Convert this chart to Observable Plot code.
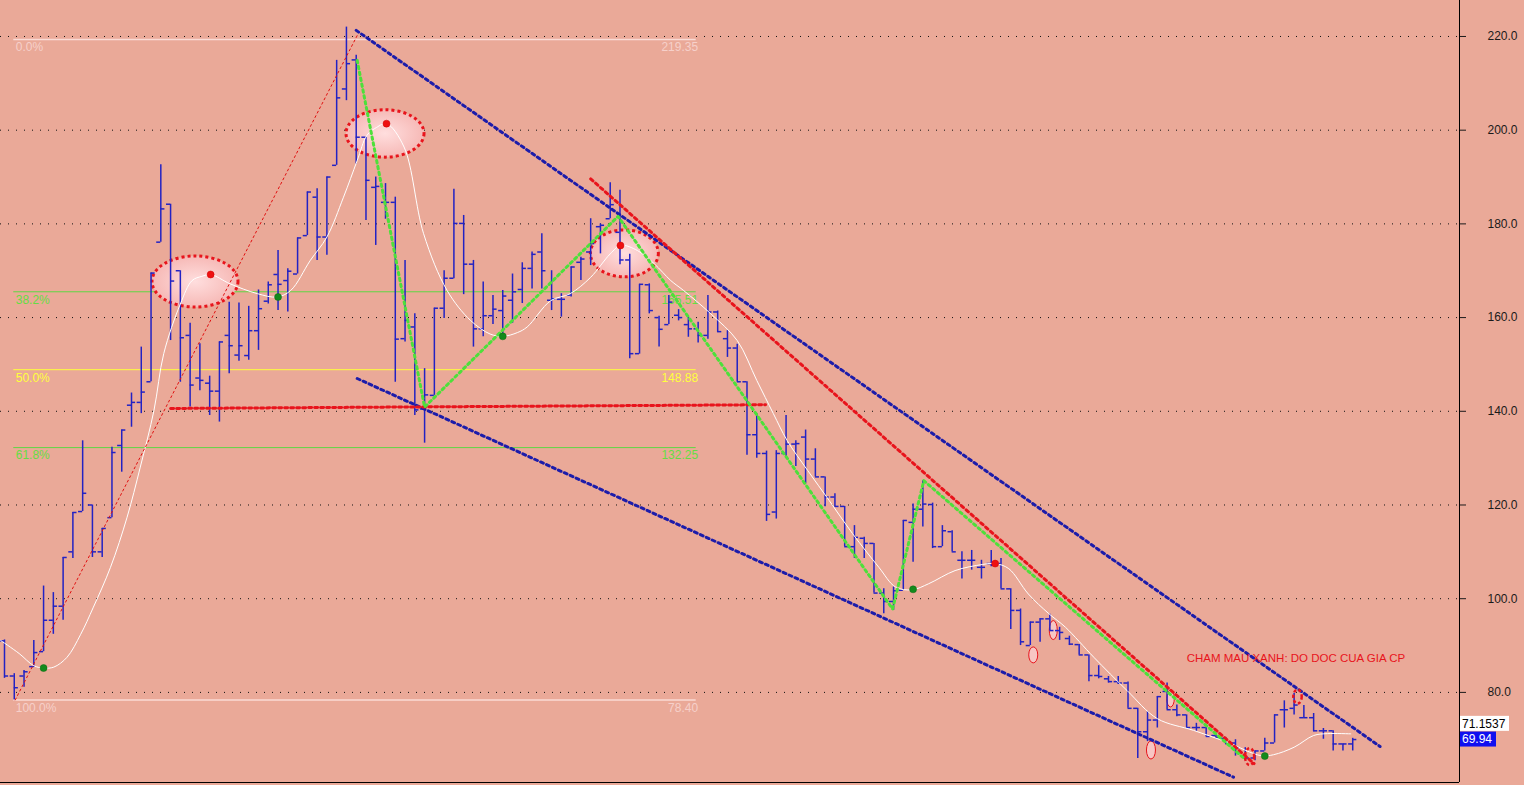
<!DOCTYPE html>
<html><head><meta charset="utf-8">
<script src="https://cdn.jsdelivr.net/npm/d3@7"></script>
<script src="https://cdn.jsdelivr.net/npm/@observablehq/plot@0.6"></script>
<style>
html,body{margin:0;padding:0;background:#eaa998;overflow:hidden;}
#chart svg{display:block;}
</style></head><body><div id="chart"></div>
<script>
// ---- OHLC bars (bar index 0..138) ----
const open=[91,83.5,83.5,85.5,88.7,95.4,98.4,110,118.6,120,
110,117.3,132.7,141.3,141.9,146.3,176.1,184.2,170,156.2,
147.1,146,144.3,156.2,152,151.9,157.2,163.5,169.2,167.9,
169.3,177.5,185.7,177.2,192.5,208.8,215,198.5,187.8,184.6,
184.6,155.5,158,140.5,143.4,162,168.4,180.1,171.4,157.6,
160.4,161.5,163.7,166,170.5,174,163.7,163.9,164.8,171.8,
174,179.4,181.1,178.2,172.3,152.3,167,160,158.5,160.5,
158.5,157.6,156.2,161.2,155.5,153.5,146.3,135,131,118.5,
131,133,134.5,129.8,126,121.7,119.7,111.1,112.9,111.8,
101.2,99.4,101.8,116.3,119.1,120.1,111.1,114.3,108.2,108.2,
106.7,107.5,107.5,102.1,97.5,90,95,95.7,93.2,91.5,
90.2,88,83.6,82.9,82.3,82,76.6,71.6,74.1,80.2,
76.3,75.2,72.5,72.5,70.8,70.2,69.2,66.4,66,67.5,
69.2,76.3,76.6,74.6,74.6,71.8,71.8,69,69];
const high=[91.2,84,84.7,91.1,102.7,101.3,108.8,118.4,133.7,120,
115,132.3,136,143.9,153.7,169.5,192.6,184.2,170,158.8,
154.4,147.5,154.8,163.3,163.1,162.4,165.9,167.6,174.3,170.4,
177,186.8,187.5,190,214.9,222,216,198.5,190,188.6,
185.7,172.2,160.8,149.1,162,170,187.4,181.8,172.2,167.6,
164.7,165.8,169.3,171.7,174,177.9,170,165.1,170.8,172.9,
181.1,180,188.8,187.2,173.5,167.1,167.2,160.3,164.7,161.7,
160.1,159,164.7,161.4,157.2,154.3,146.3,139.5,131.5,131.6,
139.1,133.7,136,132,126,122.4,119.7,115.6,113.1,111.8,
102.1,102.5,116.7,120.2,125.2,120.4,115.6,114.5,110,110.3,
108.2,110.3,108.6,102.1,97.8,95,95.7,96.7,93.9,92,
90.2,88,85.7,83.4,83.4,82.2,76.6,75.9,79.1,82,
77.3,75.2,73.4,72.5,71.3,70.4,69.9,68.2,67.5,70.2,
75.2,78.2,79.8,77.2,75.5,72.3,71.8,69,70.2];
const low=[83,78.4,81.1,85.3,88.7,92.4,95.4,108.6,118.6,108.8,
108.8,117.3,127,136.6,139.5,146.3,176.1,155.1,146.2,140.9,
144.4,139.1,137.7,148,150.7,150.9,153,162.9,161.5,161.2,
169.3,177.5,172.2,173.3,192.5,206.3,192.8,180.7,175.4,181,
146.2,154.8,139.1,133.2,143.4,159.8,168.3,164.9,153.7,155.9,
158.5,156.3,158.8,163,166.1,166.1,161.5,160.1,164.4,167.9,
171.1,173.6,181.1,171.3,151.2,152.2,160.8,153.7,158.5,159.3,
155.8,154.6,155.4,156.8,151.5,146.3,130.6,130,116.5,117,
130.2,128.2,124.5,126,119.6,119.6,111.1,108.6,108.6,101.2,
96.8,97.5,101.8,107.8,115.3,110.7,111.1,110,104.2,106.1,
104.2,106.8,102.1,93.4,90,90,90.7,93.2,91.1,90,
88,82.3,82.9,82,81.7,76.6,65.9,69.5,72.4,76.3,
74.8,72.4,71.7,70.6,70.2,68.8,66.4,65.4,65.4,67.5,
69.2,72.4,75.2,74.5,71.6,70,67.5,67.5,67.5];
const close=[83.5,81,84.4,88.5,95.4,98.4,108.8,118.4,122.5,110,
115,131.2,136,141.9,144.1,169.5,183.2,167.8,155.7,145.6,
146.6,144.3,154.8,154,154,157.2,161.9,167,167.1,169.9,
177,186.8,177.2,190,206.9,214.2,198.5,189.3,188,184.6,
155.4,159.4,140.3,143.5,162,168.4,180.1,171.4,157.6,160.4,
161.8,164.6,165.5,170.5,173.5,170,164,163.9,170.8,172.5,
175.8,179.7,184.1,172.3,152.3,167.1,161.5,157.5,163.3,160,
157.6,156.2,161.2,157,153.5,146.3,135,131,118,131,
133,133.1,129.8,126,121.7,119.7,111.1,113.1,111.8,101.2,
99.4,101.7,116.7,119.1,120.2,111.1,114.5,110,108.2,108.2,
106.7,107.5,102.1,97.5,90.8,95,95.7,93.2,92.8,90.3,
88,83.6,83.4,82.3,82,76.6,71.6,74.1,79.1,76.3,
75.2,72.5,72.5,70.6,70.4,69.2,68.2,66,67.5,69.2,
75.2,76.3,77.3,74.6,71.8,71.8,69,69,69.94];

// ---- moving average (white line) ----
const maIdx=[-0.4,1.5,3.0,4.0,5.05,6.4,7.8,9.1,10.85,12.55,13.9,15.3,16.3,18.0,19.2,20.2,21.1,23.1,25.9,27.9,29.3,31.3,33.0,34.7,36.1,37.1,38.1,39.1,40.9,42.9,45.3,47.7,49.7,51.0,52.5,53.5,55.9,57.9,60.0,62.0,63.1,64.8,66.5,68.2,69.5,72.3,75.0,77.0,78.7,80.1,82.2,84.4,86.8,89.5,91.2,92.9,94.6,97.3,100.1,101.4,102.8,104.8,106.9,108.6,111.5,114.9,118.0,121.7,125.1,128.6,129.9,132.0,134.0,135.4,137.8];
const maVal=[91.1,88.3,85.7,85.2,85.4,87.5,92.4,98.2,106.7,117.4,128.1,140.2,152.3,162.9,167.9,168.8,169.2,167.2,165.1,164.4,165.8,172.2,177.2,185.7,193.5,198.9,200.6,201.4,196.4,177.9,165.8,159.4,156.5,156.0,156.8,158.0,163.6,165.1,168.6,173.6,175.4,174.3,171.5,167.9,165.8,160.8,155.1,146.6,139.5,133.8,127.4,121.0,113.9,106.7,102.5,101.9,103.2,106.0,107.3,107.5,106.4,101.0,96.8,93.9,87.5,80.4,74.4,71.9,69.4,66.5,66.7,68.3,70.8,71.2,71.15];

// ---- Fibonacci levels ----
const fibLevels=[219.35,165.51,148.88,132.25,78.40];
const fibPct=["0.0%","38.2%","50.0%","61.8%","100.0%"];
const fibText=["219.35","165.51","148.88","132.25","78.40"];
const fibLineX=[0.95,70.8];
const fibLabelX=[1.15,71.0];
const fibLinkX=[1.1,36.1], fibLinkY=[78.4,220.2];

// ---- trend lines ----
const upperX=[36.0,140.8], upperY=[221.3,68.45];
const lowerX=[36.1,125.8], lowerY=[147.0,61.9];
const redTrendX=[60.0,127.9], redTrendY=[189.6,64.8];
const supportX=[17.0,77.9], supportY=[140.6,141.4];
const zigX=[36.1,43.0,62.8,90.9,94.1,127.0];
const zigY=[214.9,140.9,181.6,97.8,125.2,65.7];

// ---- markers ----
const greenDotX=[4,28,51,93,129], greenDotY=[85.2,164.4,156.0,102.0,66.4];
const redDotX=[21.1,39.1,63.05,101.4], redDotY=[169.2,201.4,175.4,107.5];
const bigEllX=[19.55,39.0,63.5], bigEllY=[167.6,199.2,173.6];
const smallEllX=[105.35,107.4,117.4,119.4], smallEllY=[87.9,93.2,67.6,78.6];
const dashEllX=[127.5,132.4], dashEllY=[66.2,79.0];

const noteText=["CHAM MAU XANH: DO DOC CUA GIA CP"], noteX=[121], noteY=[87.2];
const lastMA=71.1537, lastClose=69.94;
const yTicks=[80,100,120,140,160,180,200,220];
const xDomain=[-0.409,148.93], yDomain=[60.77,227.68];

// ---- styles ----
const RED="#e8141c", BLUE="#1c1caa", BAR="#2222c4", GREEN="#4de03a";
const fibColor=["#fadbd5","#5fd645","#ffff3c","#5fd645","#fadbd5"];
const fibDash=[null,"3,2",null,"3,2",null];
const fibLabelColor=["#f6d0ca","#66dd44","#ffff3c","#66dd44","#f6d0ca"];
const bigSizes=[[43,25.5],[39,23.7],[34,23.5]];
const smallSizes=[[4.5,8],[4,9.5],[4.5,9],[3.8,8.5]];
const dashSizes=[[4.5,8.5],[4.2,7]];

const bars=d3.range(open.length);
const fibIdx=d3.range(fibLevels.length);
const tick=0.42;

function ellipses(xs,ys,sizes,st){
  return (index,scales)=>{
    const g=d3.create("svg:g");
    if(st.gradient){
      const gr=g.append("defs").append("radialGradient").attr("id",st.gradient);
      gr.append("stop").attr("offset","0%").attr("stop-color","#ffdede");
      gr.append("stop").attr("offset","100%").attr("stop-color","#f6b9b6");
    }
    xs.forEach((x,i)=>{
      g.append("ellipse")
        .attr("cx",scales.x(x)).attr("cy",scales.y(ys[i]))
        .attr("rx",sizes[i][0]).attr("ry",sizes[i][1])
        .attr("fill",st.gradient?`url(#${st.gradient})`:st.fill)
        .attr("stroke",st.stroke).attr("stroke-width",st.width)
        .attr("stroke-dasharray",st.dash||null);
    });
    return g.node();
  };
}
function valueBoxes(index,scales,values,dim){
  const g=d3.create("svg:g").attr("font-size",12).attr("text-anchor","start");
  const x0=dim.width-dim.marginRight+1;
  const items=[
    {v:lastMA,t:lastMA.toFixed(4),w:49,bg:"#ffffff",fg:"#000",dy:-10},
    {v:lastClose,t:lastClose.toFixed(2),w:36,bg:"#1010f0",fg:"#ffffff",dy:0}
  ];
  for(const it of items){
    const cy=scales.y(it.v)+it.dy;
    g.append("rect").attr("x",x0).attr("y",cy-7.5).attr("width",it.w).attr("height",15).attr("fill",it.bg);
    g.append("text").attr("x",x0+2).attr("y",cy).attr("dy","0.35em").attr("text-anchor","start").attr("fill",it.fg).text(it.t);
  }
  return g.node();
}

const chart=Plot.plot({
  width:1524,height:785,
  marginLeft:0,marginRight:65,marginTop:0,marginBottom:3,
  style:{background:"#eaa998",fontFamily:"'Liberation Sans',Arial,sans-serif",fontSize:"12px",color:"#1a1a1a",overflow:"hidden"},
  x:{type:"linear",domain:xDomain,axis:null},
  y:{type:"linear",domain:yDomain,axis:"right",ticks:yTicks,tickFormat:d=>d.toFixed(1),tickSize:6,tickPadding:22,label:null},
  marks:[
    Plot.ruleY(yTicks,{stroke:"#111",strokeDasharray:"1,7",strokeWidth:1}),
    // fib levels
    Plot.ruleY(fibIdx,{y:i=>fibLevels[i],x1:fibLineX[0],x2:fibLineX[1],stroke:i=>fibColor[i],strokeDasharray:i=>fibDash[i],strokeWidth:i=>(i===0||i===4)?1.5:1}),
    Plot.text(fibIdx,{x:fibLabelX[0],y:i=>fibLevels[i],text:i=>fibPct[i],fill:i=>fibLabelColor[i],textAnchor:"start",dy:8,fontSize:12}),
    Plot.text(fibIdx,{x:fibLabelX[1],y:i=>fibLevels[i],text:i=>fibText[i],fill:i=>fibLabelColor[i],textAnchor:"end",dy:8,fontSize:12}),
    // highlight ellipses
    ellipses(bigEllX,bigEllY,bigSizes,{gradient:"pinkGrad",stroke:RED,width:3,dash:"3,3"}),
    ellipses(smallEllX,smallEllY,smallSizes,{fill:"#f7c6c3",stroke:RED,width:1}),
    // OHLC bars
    Plot.ruleX(bars,{x:i=>i,y1:i=>low[i],y2:i=>high[i],stroke:BAR,strokeWidth:1.5}),
    Plot.ruleY(bars,{y:i=>open[i],x1:i=>i-tick,x2:i=>i,stroke:BAR,strokeWidth:1.5}),
    Plot.ruleY(bars,{y:i=>close[i],x1:i=>i,x2:i=>i+tick,stroke:BAR,strokeWidth:1.5}),
    // moving average
    Plot.line(maIdx,{x:maIdx,y:maVal,stroke:"#ffffff",strokeWidth:1,curve:"catmull-rom"}),
    // fib connector
    Plot.line(fibLinkX,{x:fibLinkX,y:fibLinkY,stroke:"#e01010",strokeWidth:1,strokeDasharray:"2,3"}),
    // channel
    Plot.line(upperX,{x:upperX,y:upperY,stroke:BLUE,strokeWidth:3,strokeDasharray:"3,3.5"}),
    Plot.line(lowerX,{x:lowerX,y:lowerY,stroke:BLUE,strokeWidth:3,strokeDasharray:"3,3.5"}),
    Plot.line(supportX,{x:supportX,y:supportY,stroke:RED,strokeWidth:3,strokeDasharray:"3,3"}),
    Plot.line(redTrendX,{x:redTrendX,y:redTrendY,stroke:RED,strokeWidth:3,strokeDasharray:"3,3.5"}),
    Plot.line(zigX,{x:zigX,y:zigY,stroke:GREEN,strokeWidth:3,strokeDasharray:"2.5,3.5"}),
    ellipses(dashEllX,dashEllY,dashSizes,{fill:"none",stroke:RED,width:2.5,dash:"3,2.5"}),
    // markers
    Plot.dot(greenDotX,{x:greenDotX,y:greenDotY,r:3.5,fill:"#138a1c",stroke:"#0b6a12",strokeWidth:0.5}),
    Plot.dot(redDotX,{x:redDotX,y:redDotY,r:3.5,fill:"#ee1010",stroke:"#c00",strokeWidth:0.5}),
    Plot.text(noteText,{x:noteX,y:noteY,text:d=>d,fill:RED,textAnchor:"start",fontSize:11.5}),
    // frame edges
    Plot.ruleX([xDomain[1]],{stroke:"#000",strokeWidth:1}),
    Plot.ruleY([yDomain[0]],{stroke:"#000",strokeWidth:1}),
    valueBoxes
  ]
});
document.getElementById("chart").appendChild(chart);
</script></body></html>
